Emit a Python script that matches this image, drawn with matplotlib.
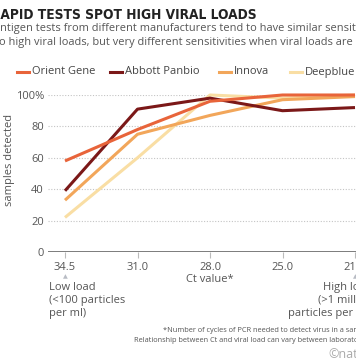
import matplotlib
matplotlib.use('Agg')
import matplotlib.pyplot as plt

plt.rcParams['font.family'] = ['Open Sans', 'DejaVu Sans']

ct_values = ['34.5', '31.0', '28.0', '25.0', '21.5']
orient_gene = [58, 78, 96, 100, 100]
abbott_panbio = [39, 91, 98, 90, 92]
innova = [33, 75, 87, 97, 99]
deepblue = [22, 60, 100, 98, 100]
y_ticks = [0, 20, 40, 60, 80, 100]
y_tick_labels = ['0', '20', '40', '60', '80', '100%']

series = [
    ('Orient Gene', orient_gene, '#e8643a'),
    ('Abbott Panbio', abbott_panbio, '#7b1818'),
    ('Innova', innova, '#f2a65a'),
    ('Deepblue', deepblue, '#f9dea4'),
]

TEXT = '#555555'
W, H = 356, 364
fig = plt.figure(figsize=(W / 100, H / 100), dpi=100, facecolor='white')

# axes placed in pixel terms: left 48, y=0 at 252, y=100 at 95
ax_left, ax_right, ax_bottom, ax_top = 48, 356, 252, 95
ax = fig.add_axes([ax_left / W, 1 - ax_bottom / H, (ax_right - ax_left) / W, (ax_bottom - ax_top) / H])
ax.set_facecolor('none')

xs = list(range(len(ct_values)))
step = 72.5
ax.set_xlim(-(65 - ax_left) / step, (ax_right - 65) / step)
ax.set_ylim(0, 100)

# gridlines
for v in y_ticks[1:]:
    ax.axhline(v, color='#c4c4c4', lw=0.8, ls=(0, (1, 1.5)), zorder=1)
ax.axhline(0, color='#555555', lw=1.8, zorder=3)

# draw in reverse so darker ones sit on top
for name, vals, color in reversed(series):
    ax.plot(xs, vals, color=color, lw=2.2, solid_capstyle='butt', clip_on=False, zorder=2)

for s in ax.spines.values():
    s.set_visible(False)
ax.set_yticks(y_ticks, y_tick_labels)
ax.tick_params(axis='y', length=0, pad=3, labelsize=8, labelcolor=TEXT)
ax.set_xticks(xs, ct_values)
ax.tick_params(axis='x', length=4, width=0.8, color='#bbbbbb', pad=3, labelsize=8, labelcolor=TEXT)

# y label, first line mostly off the canvas
fig.text(-6 / W, 1 - 160 / H, 'Percentage of', rotation=90, ha='center', va='center',
         fontsize=8, color=TEXT)
fig.text(10 / W, 1 - 160 / H, 'samples detected', rotation=90, ha='center', va='center',
         fontsize=8, color=TEXT)

# title and subtitle, cropped on the left
fig.text(-9 / W, 1 - 15 / H, 'RAPID TESTS SPOT HIGH VIRAL LOADS', ha='left', va='center',
         fontsize=9.8, fontweight='bold', fontstretch='condensed', color='#222222',
         family='DejaVu Sans')
fig.text(-7 / W, 1 - 29 / H, 'Antigen tests from different manufacturers tend to have similar sensitivities',
         ha='left', va='center', fontsize=7.9, color=TEXT)
fig.text(-5 / W, 1 - 42 / H, 'to high viral loads, but very different sensitivities when viral loads are low.',
         ha='left', va='center', fontsize=7.9, color=TEXT)

# legend
leg_y = 1 - 72 / H
for (name, vals, color), x0 in zip(series, [17, 110, 219, 290]):
    fig.add_artist(plt.Line2D([x0 / W, (x0 + 12) / W], [leg_y, leg_y], color=color, lw=2.2))
    fig.text((x0 + 15) / W, leg_y, name, ha='left', va='center', fontsize=8, color='#444444')

# annotations under the axis
fig.text(210 / W, 1 - 280 / H, 'Ct value*', ha='center', va='center', fontsize=8, color=TEXT)
fig.text(65 / W, 1 - 277 / H, '\u25b2', ha='center', va='center', fontsize=4.5, color='#b8bcc4')
fig.text(49 / W, 1 - 282 / H, 'Low load\n(<100 particles\nper ml)', ha='left', va='top',
         fontsize=8, color=TEXT, linespacing=1.25)
fig.text(355 / W, 1 - 277 / H, '\u25b2', ha='center', va='center', fontsize=4.5, color='#b8bcc4')
fig.text(372 / W, 1 - 282 / H, 'High load\n(>1 million\nparticles per ml)', ha='right', va='top',
         fontsize=8, color=TEXT, linespacing=1.25)

fig.text(373 / W, 1 - 331 / H, '*Number of cycles of PCR needed to detect virus in a sample.',
         ha='right', va='center', fontsize=5.3, color=TEXT)
fig.text(373 / W, 1 - 341 / H, 'Relationship between Ct and viral load can vary between laboratories.',
         ha='right', va='center', fontsize=5.3, color=TEXT)
fig.text(328 / W, 1 - 355 / H, '\u00a9nature', ha='left', va='center', fontsize=9, color='#aaaaaa')

fig.savefig('out.png', dpi=100)
